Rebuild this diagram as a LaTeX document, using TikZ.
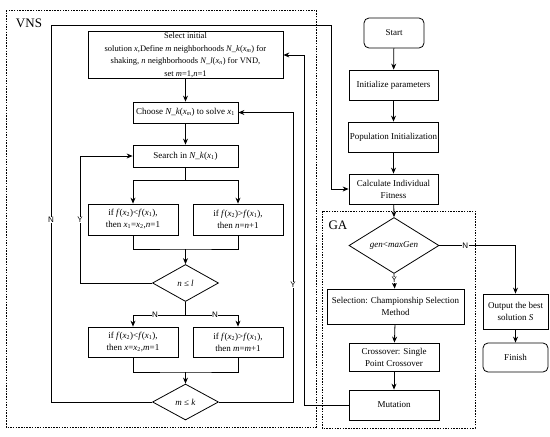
\documentclass[tikz,border=0pt]{standalone}
\usepackage{fontspec}
\setmainfont{Liberation Serif}
\newfontfamily\lblfont{Liberation Sans}
\usetikzlibrary{shapes.geometric,arrows.meta}
\newcommand{\vi}[1]{\textit{#1}}
\newcommand{\sbs}[1]{\textsubscript{#1}}
\begin{document}
\begin{tikzpicture}[x=1pt,y=-1pt,
  box/.style={draw, line width=0.8pt, font=\fontsize{9}{12}\selectfont, align=center, inner sep=1pt},
  rbox/.style={box, rounded corners=5pt},
  dia/.style={draw, line width=0.8pt, diamond, inner sep=0pt, font=\fontsize{9}{11}\selectfont},
  arr/.style={line width=0.8pt, -{Stealth[length=6pt,width=5pt]}},
  ln/.style={line width=0.8pt},
  grp/.style={line width=0.8pt, dash pattern=on 1.5pt off 1.2pt},
  lbl/.style={font=\lblfont\fontsize{8}{9}\selectfont, fill=white, inner sep=0.5pt},
  ttl/.style={font=\fontsize{13}{14}\selectfont, inner sep=0pt}]
\useasboundingbox (0,0) rectangle (550,437);
% group frames
\draw[grp] (6,10) rectangle (316,427);
\draw[grp] (322,211) rectangle (475,428);
\node[ttl] (vnsT) at (29,23) {VNS};
\node[ttl] (gaT) at (338,225) {GA};
% VNS nodes
\node[box, minimum width=195pt, minimum height=44pt, font=\fontsize{8.5}{12.5}\selectfont] (sel) at (185.5,55)
 {Select initial\\ solution \vi{x},Define \vi{m} neighborhoods \vi{N\_k}(\vi{x}\sbs{\vi{m}}) for\\ shaking, \vi{n} neighborhoods \vi{N\_l}(\vi{x}\sbs{\vi{n}}) for VND,\\ set \vi{m}=1,\vi{n}=1};
\node[box, minimum width=105pt, minimum height=21pt] (choose) at (185.5,112.5) {Choose \vi{N\_k}(\vi{x}\sbs{\vi{m}}) to solve \vi{x}\sbs{1}};
\node[box, minimum width=105pt, minimum height=22pt] (search) at (185.5,156) {Search in \vi{N\_k}(\vi{x}\sbs{1})};
\node[box, minimum width=90pt, minimum height=31pt] (ifA) at (133,219.5) {if \vi{f}(\vi{x}\sbs{2})<\vi{f}(\vi{x}\sbs{1}),\\ then \vi{x}\sbs{1}=\vi{x}\sbs{2},\vi{n}=1};
\node[box, minimum width=90pt, minimum height=31pt] (ifB) at (238,219.5) {if \vi{f}(\vi{x}\sbs{2})>\vi{f}(\vi{x}\sbs{1}),\\ then \vi{n}=\vi{n}+1};
\node[dia, minimum width=66pt, minimum height=37pt] (nl) at (185.5,283) {\vi{n} ≤ \vi{l}};
\node[box, minimum width=90pt, minimum height=30pt] (ifC) at (133,342) {if \vi{f}(\vi{x}\sbs{2})<\vi{f}(\vi{x}\sbs{1}),\\ then \vi{x}=\vi{x}\sbs{2},\vi{m}=1};
\node[box, minimum width=90pt, minimum height=30pt] (ifD) at (238,342) {if \vi{f}(\vi{x}\sbs{2})>\vi{f}(\vi{x}\sbs{1}),\\ then \vi{m}=\vi{m}+1};
\node[dia, minimum width=66pt, minimum height=36pt] (mk) at (185.5,402) {\vi{m} ≤ \vi{k}};
% GA / main column
\node[rbox, minimum width=60pt, minimum height=30pt] (start) at (394,33) {Start};
\node[box, minimum width=89pt, minimum height=30pt] (init) at (393.5,85) {Initialize parameters};
\node[box, minimum width=89pt, minimum height=30pt] (pop) at (393.5,137) {Population Initialization};
\node[box, minimum width=89pt, minimum height=30pt] (calc) at (393.5,189) {Calculate Individual\\ Fitness};
\node[dia, minimum width=90pt, minimum height=53pt] (gen) at (394,245.5) {\vi{gen}<\vi{maxGen}};
\node[box, minimum width=137pt, minimum height=35pt] (selc) at (395.5,306.5) {Selection: Championship Selection\\ Method};
\node[box, minimum width=90pt, minimum height=28pt] (cross) at (394,357) {Crossover: Single\\ Point Crossover};
\node[box, minimum width=90pt, minimum height=30pt] (mut) at (394,405) {Mutation};
\node[box, minimum width=65pt, minimum height=35pt] (out) at (515.5,311.5) {Output the best\\ solution \vi{S}};
\node[rbox, minimum width=65pt, minimum height=29pt] (fin) at (515.5,357.5) {Finish};
% coordinates
\coordinate (s1) at (185.5,180);
\coordinate (m1) at (185.5,249);
\coordinate (yl) at (80,283);
\coordinate (s2) at (185.5,315);
\coordinate (m2) at (185.5,372);
\coordinate (nA) at (51,25);
\coordinate (nB) at (331,25);
\coordinate (yB) at (293,112.5);
\coordinate (mA) at (304,55);
% VNS connectors
\draw[arr] (sel) -- (choose);
\draw[arr] (choose) -- (search);
\draw[ln] (search) -- (s1);
\draw[arr] (s1) -| (ifA);
\draw[arr] (s1) -| (ifB);
\draw[ln] (ifA.south) |- (m1) -| (ifB.south);
\draw[arr] (m1) -- (nl.north);
\draw[arr] (nl.west) -- (yl) |- (search.west);
\node[lbl] at (80,220) {Y};
\draw[ln] (nl.south) -- (s2);
\draw[arr] (s2) -| (ifC);
\draw[arr] (s2) -| (ifD);
\node[lbl] at (155,315) {N};
\node[lbl] at (215,315) {N};
\draw[ln] (ifC.south) |- (m2) -| (ifD.south);
\draw[arr] (m2) -- (mk.north);
\draw[arr] (mk.west) -| (nA) -- (nB) |- (calc.west);
\node[lbl] at (51,220) {N};
\draw[arr] (mk.east) -| (yB) -- (choose.east);
\node[lbl] at (293,285) {Y};
\draw[arr] (mut.west) -| (mA) -- (sel.east);
% main column connectors
\draw[arr] (start) -- (init);
\draw[arr] (init) -- (pop);
\draw[arr] (pop) -- (calc);
\draw[arr] (calc) -- (gen.north);
\draw[arr] (gen.south) -- node[lbl, pos=0.4] {Y} (selc);
\draw[arr] (gen.east) -| node[lbl, pos=0.17] {N} (out.north);
\draw[arr] (selc) -- (cross);
\draw[arr] (cross) -- (mut);
\draw[arr] (out) -- (fin);
\end{tikzpicture}
\end{document}
